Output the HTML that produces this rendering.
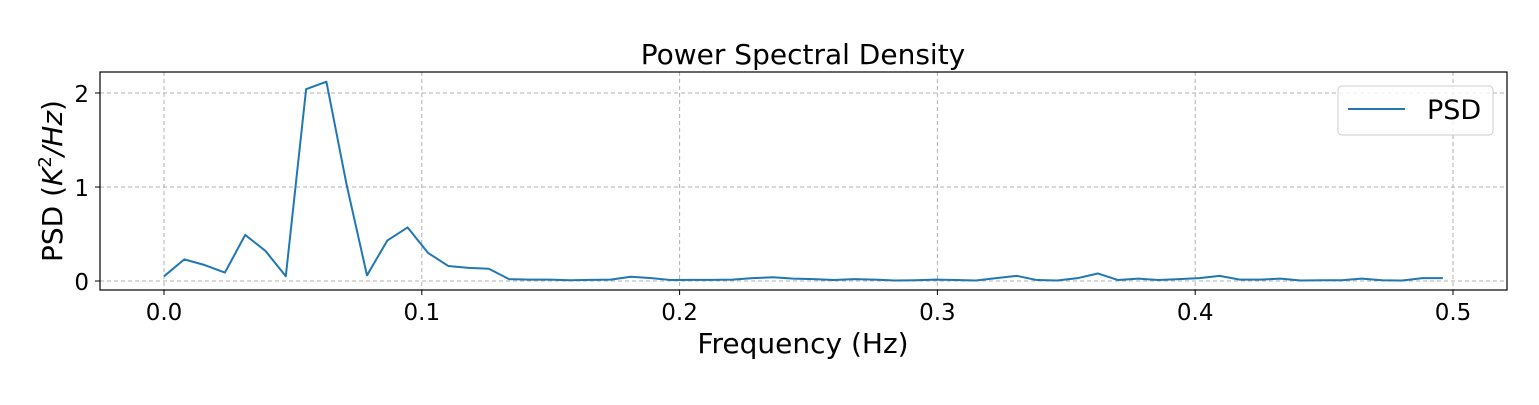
<!DOCTYPE html>
<html><head><meta charset="utf-8"><style>
body{margin:0;background:#fff;}
svg text{font-family:"DejaVu Sans","Liberation Sans",sans-serif;fill:#000;}
</style></head><body>
<svg width="1539" height="400" xmlns="http://www.w3.org/2000/svg">
<g id="grid"></g>
<polyline id="line" fill="none" stroke="#1f77b4" stroke-width="2" stroke-linejoin="round"/>
<rect x="100" y="72" width="1407" height="218" fill="none" stroke="#000" stroke-width="1.2"/>
<g id="ticks"></g>
<text x="803" y="64" font-size="28" text-anchor="middle">Power Spectral Density</text>
<text x="803" y="353" font-size="28" text-anchor="middle">Frequency (Hz)</text>
<text transform="translate(62,181) rotate(-90)" font-size="28" text-anchor="middle">PSD (<tspan font-style="italic">K</tspan><tspan font-size="18" dy="-11">2</tspan><tspan dy="11" font-style="italic">/Hz</tspan>)</text>
<g>
<rect x="1338" y="86" width="155" height="49" rx="4" fill="#fff" fill-opacity="0.8" stroke="#ccc"/>
<line x1="1348" y1="109" x2="1405" y2="109" stroke="#1f77b4" stroke-width="2"/>
<text x="1427" y="119" font-size="27">PSD</text>
</g>
</svg>
<script>
const psdValues=[0.05,0.23,0.17,0.09,0.49,0.32,0.05,2.04,2.12,1.02,0.06,0.43,0.57,0.30,0.16,0.14,0.13,0.02,0.015,0.015,0.008,0.012,0.015,0.045,0.03,0.01,0.012,0.012,0.015,0.03,0.04,0.025,0.02,0.01,0.02,0.015,0.005,0.008,0.015,0.01,0.005,0.03,0.055,0.01,0.005,0.03,0.08,0.01,0.025,0.01,0.02,0.03,0.055,0.015,0.015,0.025,0.005,0.008,0.008,0.025,0.008,0.005,0.03,0.03];
const freqStep=1/127;
const xTicks=[0,0.1,0.2,0.3,0.4,0.5];
const xTickLabels=["0.0","0.1","0.2","0.3","0.4","0.5"];
const yTicks=[0,1,2];
const yTickLabels=["0","1","2"];
const xs=v=>164+v*2578;
const ys=v=>281-v*94;
const NS="http://www.w3.org/2000/svg";
const grid=document.getElementById('grid'),ticks=document.getElementById('ticks');
function mk(p,tag,attrs){const e=document.createElementNS(NS,tag);for(const k in attrs)e.setAttribute(k,attrs[k]);p.appendChild(e);return e;}
xTicks.forEach((t,i)=>{const x=xs(t);
const g=mk(grid,'line',{x1:x,x2:x,y1:72,y2:290,stroke:'#b0b0b0','stroke-dasharray':'4,3'});


mk(ticks,'line',{x1:x,x2:x,y1:290,y2:295,stroke:'#000'});
const tx=mk(ticks,'text',{x:x,y:320,'font-size':'23','text-anchor':'middle'});tx.textContent=xTickLabels[i];

});
yTicks.forEach((t,i)=>{const y=ys(t);
const g=mk(grid,'line',{x1:100,x2:1507,y1:y,y2:y,stroke:'#b0b0b0','stroke-dasharray':'4,3'});


mk(ticks,'line',{x1:95,x2:100,y1:y,y2:y,stroke:'#000'});
const tx=mk(ticks,'text',{x:89,y:y+9,'font-size':'23','text-anchor':'end'});tx.textContent=yTickLabels[i];

});
document.getElementById('line').setAttribute('points',psdValues.map((v,i)=>xs(i*freqStep)+','+ys(v)).join(' '));
</script>
</body></html>
